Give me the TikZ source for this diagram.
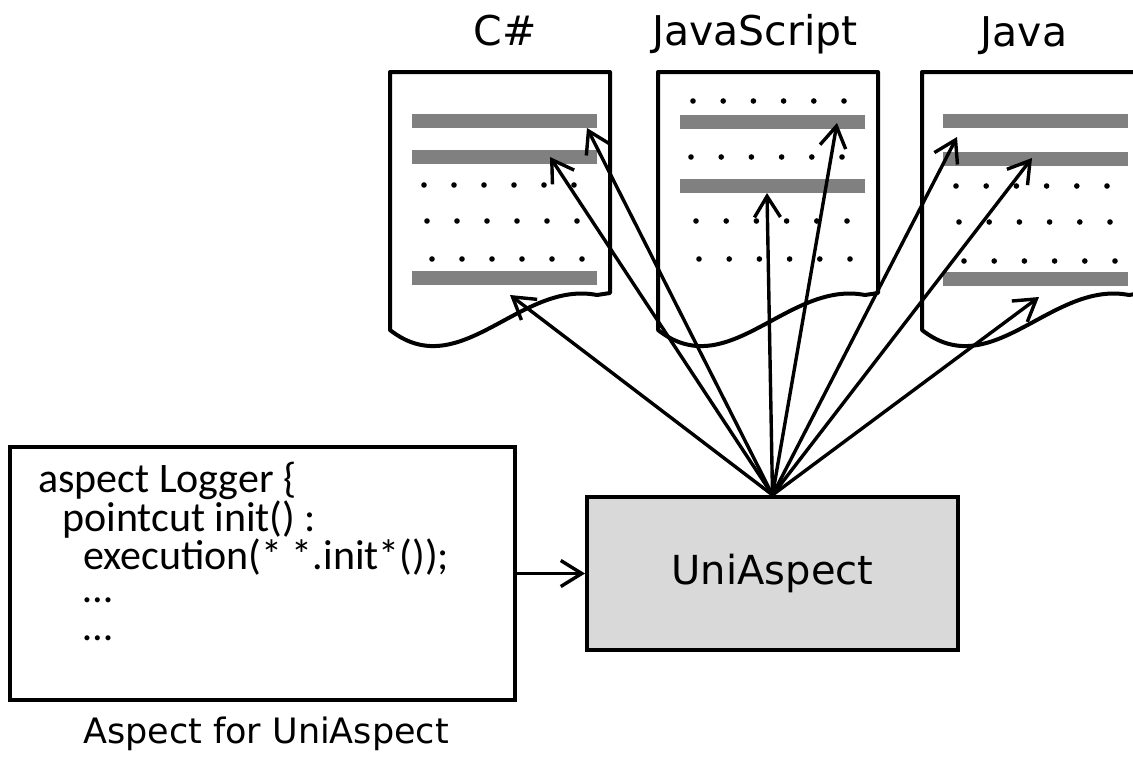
\documentclass[tikz,border=0pt]{standalone}
\usepackage{fontspec}
\setmainfont{DejaVu Sans}
\newfontfamily\codefont{Carlito}
\usepackage{xcolor}
\usetikzlibrary{arrows.meta,positioning}
\definecolor{bargray}{RGB}{128,128,128}
\definecolor{boxgray}{RGB}{217,217,217}

\begin{document}
\begin{tikzpicture}[x = 1pt, y = -1pt,
    page/.style = {line width = 4pt, line join = round, fill = white},
    flow/.style = {line width = 3.4pt, -{Straight Barb[length = 21pt, width = 26pt]}},
    lbl/.style = {font = \fontsize{41}{41}\selectfont, inner sep = 0pt}]
    \useasboundingbox (0,0) rectangle (1133,756);
    \clip (0,0) rectangle (1133,756);

    % the three source files
    \foreach \px in {390,658,922}
        \draw[page] (\px,330) -- (\px,72) -- (\px+220,72) -- (\px+220,293) -- (\px+207,295)
            .. controls (\px+130,280) and (\px+70,385) .. (\px,330) -- cycle;

    % C#
    \foreach \y in {121,157,278}
        \fill[bargray] (412,\y-7) rectangle (597,\y+7);
    \foreach \x/\y in {424/185,427/221,432/259}
        \foreach \i in {0,...,5}
            \fill (\x+30*\i,\y) circle (2.8pt);
    % JavaScript
    \foreach \y in {122,186}
        \fill[bargray] (680,\y-7) rectangle (865,\y+7);
    \foreach \x/\y in {693/101,691/157,696/221,699/259}
        \foreach \i in {0,...,5}
            \fill (\x+30.2*\i,\y) circle (2.8pt);
    % Java
    \foreach \y in {121,159,279}
        \fill[bargray] (943,\y-7) rectangle (1128,\y+7);
    \foreach \x/\y in {956/186,959/222,964/261}
        \foreach \i in {0,...,5}
            \fill (\x+30.2*\i,\y) circle (2.8pt);

    \node[lbl, anchor = base] (cslabel) at (505,45) {C\#};
    \node[lbl, anchor = base] (jslabel) at (755,45) {JavaScript};
    \node[lbl, anchor = base] (javalabel) at (1024,46) {Java};

    % weaver and aspect
    \node[draw, line width = 4pt, fill = boxgray, minimum width = 371pt, minimum height = 153pt,
        font = \fontsize{40}{40}\selectfont] (uni) at (772.5,573.5) {UniAspect};
    \node[draw, line width = 4pt, minimum width = 505pt, minimum height = 253pt] (aspect) at (262.5,573.5) {};
    \node[anchor = north west, align = left, inner sep = 0pt,
        font = \codefont\fontsize{42}{38.5}\selectfont] (code) at (38,462)
        {aspect Logger \{\\
        \hspace*{24pt}pointcut init() :\\
        \hspace*{45pt}execution(* *.init*());\\[-6pt]
        \hspace*{45pt}…\\
        \hspace*{45pt}…};
    \node[lbl, font = \fontsize{35}{35}\selectfont, anchor = base] (caption) at (266,743) {Aspect for UniAspect};

    % join points in each file
    \coordinate (cstop) at (587,128);
    \coordinate (csmid) at (550,157);
    \coordinate (cslow) at (510,295);
    \coordinate (jstop) at (837,123);
    \coordinate (jsmid) at (767,193);
    \coordinate (javatop) at (957,137);
    \coordinate (javamid) at (1032,158);
    \coordinate (javalow) at (1039,297);

    \draw[flow] (aspect.east) -- (uni.west);
    \foreach \t in {cstop,csmid,cslow,jstop,jsmid,javatop,javamid,javalow}
        \draw[flow] (uni.north) -- (\t);
\end{tikzpicture}
\end{document}
